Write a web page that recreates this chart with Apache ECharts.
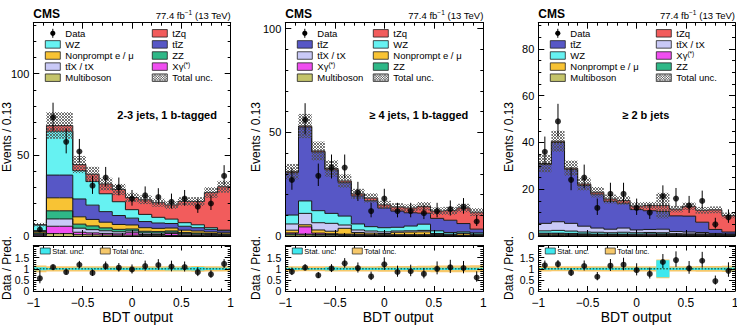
<!DOCTYPE html>
<html>
<head>
<meta charset="utf-8">
<title>BDT output</title>
<script src="https://cdn.jsdelivr.net/npm/echarts@6.0.0/dist/echarts.min.js"></script>
<style>
  html, body { margin: 0; padding: 0; background: #fff; }
  #chart { width: 737px; height: 327px; }
</style>
</head>
<body>
<div id="chart"></div>
<script>
// 15 bins of BDT output between -1 and 1
const nBins = 15;
const binEdges = Array.from({ length: nBins + 1 }, (_, i) => -1 + (2 * i) / nBins);

// --- 2-3 jets, 1 b-tagged
const data1 = [4, 73, 58, 52, 31, 36, 30, 23, 25, 24, 21, 23, 18, 20, 37];
const multiboson1 = [0.2, 1.5, 1.5, 0.8, 0.7, 0.6, 0.5, 0.5, 0.4, 0.4, 0.3, 0.3, 0.3, 0.2, 0.2];
const xgamma1 = [0.6, 4.5, 4.5, 1.5, 1.2, 1.0, 0.8, 1.5, 0.5, 0.5, 1.2, 0.4, 0.3, 0.3, 0.2];
const ttx1 = [0.5, 4.5, 4.5, 2.5, 2.0, 1.6, 1.3, 1.1, 1.0, 0.9, 0.8, 0.7, 0.6, 0.5, 0.4];
const zz1 = [0.6, 5.0, 5.0, 2.5, 2.3, 1.8, 1.5, 1.2, 1.0, 0.9, 0.8, 0.7, 0.6, 0.5, 0.4];
const nonprompt1 = [0.8, 8.0, 8.0, 4.5, 4.0, 3.5, 3.0, 2.5, 2.2, 2.0, 1.8, 1.5, 1.3, 1.0, 0.8];
const ttz1 = [0.6, 14.0, 14.0, 11.0, 8.8, 6.5, 5.5, 4.2, 3.8, 3.3, 2.8, 2.4, 2.0, 1.6, 1.2];
const wz1 = [3.5, 27.0, 27.0, 17.5, 14.5, 11.0, 8.5, 5.2, 4.4, 3.5, 2.7, 2.2, 1.8, 1.0, 0.4];
const tzq1 = [0.2, 3.5, 3.5, 3.7, 4.5, 6.0, 7.5, 7.5, 9.0, 9.0, 8.7, 13.1, 14.3, 21.6, 26.7];
const totUnc1 = [0.15, 0.12, 0.12, 0.12, 0.12, 0.12, 0.12, 0.12, 0.12, 0.12, 0.12, 0.12, 0.13, 0.12, 0.12];
const statUnc1 = [0.07, 0.04, 0.04, 0.05, 0.05, 0.05, 0.05, 0.05, 0.05, 0.05, 0.06, 0.06, 0.08, 0.05, 0.05];

// --- >= 4 jets, 1 b-tagged
const data2 = [27, 56, 29, 33, 33, 21, 12, 18, 12, 12, 11, 12, 13, 14, 7];
const multiboson2 = [0.5, 0.5, 0.4, 0.4, 0.3, 0.3, 0.2, 0.2, 0.2, 0.2, 0.2, 0.1, 0.1, 0.1, 0.1];
const zz2 = [0.5, 0.4, 0.4, 0.3, 0.3, 0.3, 0.2, 0.2, 0.2, 0.2, 0.2, 0.1, 0.1, 0.1, 0.1];
const xgamma2 = [0.5, 3.5, 0.6, 0.4, 0.3, 0.3, 0.2, 0.2, 0.2, 0.2, 0.2, 0.1, 0.1, 0.1, 0.1];
const nonprompt2 = [1.3, 1.0, 1.5, 1.2, 2.8, 0.8, 0.8, 0.6, 1.2, 1.3, 1.4, 0.4, 0.3, 0.8, 0.3];
const ttx2 = [3.0, 5.5, 3.5, 3.8, 1.6, 1.2, 1.0, 0.8, 0.6, 0.6, 0.7, 0.5, 0.3, 0.3, 0.3];
const wz2 = [4.3, 6.0, 5.8, 4.8, 4.3, 2.9, 2.1, 2.0, 1.8, 2.3, 3.0, 1.3, 0.8, 0.6, 0.6];
const ttz2 = [20.4, 35.6, 28.3, 21.0, 16.1, 13.5, 12.5, 9.5, 7.8, 6.4, 5.3, 6.0, 5.9, 4.0, 1.8];
const tzq2 = [0.5, 0.5, 0.5, 0.6, 0.8, 1.0, 1.3, 1.5, 2.0, 2.3, 3.3, 3.5, 4.6, 7.5, 8.2];
const totUnc2 = [0.12, 0.11, 0.11, 0.12, 0.12, 0.12, 0.12, 0.13, 0.13, 0.13, 0.14, 0.15, 0.15, 0.15, 0.16];
const statUnc2 = [0.05, 0.04, 0.04, 0.07, 0.05, 0.05, 0.05, 0.05, 0.05, 0.05, 0.05, 0.05, 0.05, 0.05, 0.05];

// --- >= 2 b jets
const data3 = [36, 49, 24, 25, 12, 18, 18, 12, 10, 17, 16, 13, 15, 5, 8];
const multiboson3 = [0.2, 0.2, 0.2, 0.2, 0.1, 0.1, 0.1, 0.1, 0.1, 0.1, 0.1, 0.1, 0.1, 0.1, 0.1];
const zz3 = [0.3, 0.3, 0.3, 0.2, 0.2, 0.2, 0.2, 0.2, 0.2, 0.2, 0.1, 0.1, 0.1, 0.1, 0.1];
const nonprompt3 = [0.4, 0.4, 0.3, 0.3, 0.3, 0.3, 0.3, 0.2, 0.2, 0.3, 0.2, 0.2, 0.2, 0.2, 0.1];
const xgamma3 = [0.3, 0.3, 0.3, 0.2, 0.2, 0.2, 0.2, 0.3, 0.4, 0.3, 0.2, 0.2, 0.2, 0.1, 0.1];
const wz3 = [1.0, 1.2, 1.0, 0.8, 0.8, 0.6, 0.8, 0.6, 0.6, 0.5, 0.4, 0.3, 0.3, 0.2, 0.2];
const ttx3 = [3.2, 3.7, 3.3, 2.5, 1.8, 1.5, 1.8, 1.2, 1.3, 1.5, 0.9, 0.8, 0.6, 0.4, 0.3];
const ttz3 = [25.2, 33.9, 23.1, 17.4, 14.5, 11.9, 10.6, 8.7, 8.0, 7.6, 6.7, 6.8, 4.4, 1.7, 0.8];
const tzq3 = [0.4, 0.5, 0.5, 0.6, 0.8, 1.0, 1.2, 1.5, 2.2, 2.5, 2.9, 4.2, 5.1, 8.4, 7.1];
const totUnc3 = [0.12, 0.11, 0.11, 0.12, 0.12, 0.12, 0.12, 0.12, 0.12, 0.42, 0.12, 0.12, 0.13, 0.13, 0.14];
const statUnc3 = [0.04, 0.04, 0.04, 0.04, 0.05, 0.05, 0.05, 0.05, 0.05, 0.38, 0.05, 0.05, 0.05, 0.05, 0.06];

const FONT = '"Liberation Sans", Arial, Helvetica, sans-serif';
const COLORS = {
  tZq: '#f25c5c', ttZ: '#5757c6', WZ: '#66f2f2', NP: '#f8c334',
  ZZ: '#2fb887', ttX: '#c9c9f7', Xg: '#f04ef0', MB: '#c4c46a'
};
const LABELS = {
  tZq: 'tZq', ttZ: 'tt\u0304Z', WZ: 'WZ', NP: 'Nonprompt e / \u03bc', ZZ: 'ZZ',
  ttX: 'tt\u0304X / tX', Xg: 'X\u03b3{s|(*)}', MB: 'Multiboson', Data: 'Data', unc: 'Total unc.'
};
const SUP = { s: { fontSize: 6.5, fontFamily: FONT, fill: '#000', verticalAlign: 'top', lineHeight: 7 } };

const panels = [
  {
    left: 33.3, width: 197.4, ymax: 131.3, major: 50, minor: 10,
    title: '2-3 jets, 1 b-tagged', yTitleX: 7, xTitleX: 137.5, rightCol: 119,
    order: ['MB', 'Xg', 'ttX', 'ZZ', 'NP', 'ttZ', 'WZ', 'tZq'],
    comps: { MB: multiboson1, Xg: xgamma1, ttX: ttx1, ZZ: zz1, NP: nonprompt1, ttZ: ttz1, WZ: wz1, tZq: tzq1 },
    legL: ['Data', 'WZ', 'NP', 'ttX', 'MB'], legR: ['tZq', 'ttZ', 'ZZ', 'Xg', 'unc'],
    data: data1, tot: totUnc1, stat: statUnc1
  },
  {
    left: 285.3, width: 198, ymax: 102.8, major: 50, minor: 10,
    title: '\u2265 4 jets, 1 b-tagged', yTitleX: 256, xTitleX: 398, rightCol: 88,
    order: ['MB', 'ZZ', 'Xg', 'NP', 'ttX', 'WZ', 'ttZ', 'tZq'],
    comps: { MB: multiboson2, ZZ: zz2, Xg: xgamma2, NP: nonprompt2, ttX: ttx2, WZ: wz2, ttZ: ttz2, tZq: tzq2 },
    legL: ['Data', 'ttZ', 'ttX', 'Xg', 'MB'], legR: ['tZq', 'WZ', 'NP', 'ZZ', 'unc'],
    data: data2, tot: totUnc2, stat: statUnc2
  },
  {
    left: 538.3, width: 196.7, ymax: 91.2, major: 20, minor: 5,
    title: '\u2265 2 b jets', yTitleX: 509, xTitleX: 636, rightCol: 118,
    order: ['MB', 'ZZ', 'NP', 'Xg', 'WZ', 'ttX', 'ttZ', 'tZq'],
    comps: { MB: multiboson3, ZZ: zz3, NP: nonprompt3, Xg: xgamma3, WZ: wz3, ttX: ttx3, ttZ: ttz3, tZq: tzq3 },
    legL: ['Data', 'ttZ', 'WZ', 'NP', 'MB'], legR: ['tZq', 'ttX', 'Xg', 'ZZ', 'unc'],
    data: data3, tot: totUnc3, stat: statUnc3
  }
];

const MAIN_TOP = 22.7, MAIN_H = 213.3, RAT_TOP = 245.5, RAT_H = 45.5, RAT_MAX = 2.05;

// cross-hatch segments inside a pixel rectangle (lines aligned to a global grid)
function hatchSegs(x0, y0, x1, y1, s) {
  const out = [];
  for (let c = Math.ceil((y0 - x1) / s) * s; c <= y1 - x0; c += s) {
    const a = Math.max(x0, y0 - c), b = Math.min(x1, y1 - c);
    if (b > a) out.push([a, a + c, b, b + c]);
  }
  for (let c = Math.ceil((x0 + y0) / s) * s; c <= x1 + y1; c += s) {
    const a = Math.max(x0, c - y1), b = Math.min(x1, c - y0);
    if (b > a) out.push([a, c - a, b, c - b]);
  }
  return out;
}
function hatchPath(x0, y0, x1, y1, s) {
  const f = v => v.toFixed(2);
  const d = hatchSegs(x0, y0, x1, y1, s).map(g => 'M' + f(g[0]) + ' ' + f(g[1]) + 'L' + f(g[2]) + ' ' + f(g[3])).join('');
  return d || 'M0 0';
}

function xAx(grid, pos, labels, tickLen) {
  return {
    type: 'value', gridIndex: grid, position: pos, min: -1, max: 1, interval: 0.5, z: 10,
    axisLine: { show: true, onZero: false, lineStyle: { color: '#000', width: 1 } },
    axisTick: { show: true, inside: true, length: tickLen, lineStyle: { color: '#000', width: 1 } },
    minorTick: { show: true, splitNumber: 5, length: tickLen / 2, lineStyle: { color: '#000', width: 1 } },
    axisLabel: {
      show: labels, margin: 5.5, fontSize: 12, fontFamily: FONT, color: '#000',
      formatter: v => String(v).replace('-', '\u2212')
    },
    splitLine: { show: false }
  };
}
function yAx(grid, pos, max, interval, tickLen, labels, line, labelMax, fontSize) {
  return {
    type: 'value', gridIndex: grid, position: pos, min: 0, max: max, interval: interval, z: 10,
    axisLine: { show: line, onZero: false, lineStyle: { color: '#000', width: 1 } },
    axisTick: { show: true, inside: true, length: tickLen, lineStyle: { color: '#000', width: 1 } },
    axisLabel: {
      show: labels, margin: 4, fontSize: fontSize || 11, fontFamily: FONT, color: '#000',
      formatter: v => (Math.abs(v / interval - Math.round(v / interval)) < 1e-6 && v <= labelMax + 1e-9)
        ? String(+v.toFixed(2)) : ''
    },
    splitLine: { show: false }
  };
}
function txt(x, y, text, size, opts) {
  opts = opts || {};
  const align = opts.align || 'left';
  return {
    type: 'text', x: x, y: y, rotation: opts.rot || 0, silent: true, z: 100,
    style: {
      text: text, fontSize: size, fontFamily: FONT, fontWeight: opts.bold ? 'bold' : 'normal', fill: '#000',
      align: align, verticalAlign: 'middle', textAlign: align, textVerticalAlign: 'middle',
      rich: opts.rich, lineHeight: opts.lh
    }
  };
}

const grid = [], xAxis = [], yAxis = [], series = [], graphic = [];

panels.forEach((p) => {
  const gm = grid.length;
  grid.push({ left: p.left, top: MAIN_TOP, width: p.width, height: MAIN_H, outerBoundsMode: 'none', containLabel: false });
  const gr = grid.length;
  grid.push({ left: p.left, top: RAT_TOP, width: p.width, height: RAT_H, outerBoundsMode: 'none', containLabel: false });

  const xm = xAxis.length;
  xAxis.push(xAx(gm, 'bottom', false, 6), xAx(gm, 'top', false, 6));
  const xr = xAxis.length;
  xAxis.push(xAx(gr, 'bottom', true, 5), xAx(gr, 'top', false, 5));

  const ym = yAxis.length;
  yAxis.push(
    yAx(gm, 'left', p.ymax, p.major, 6, true, true, p.ymax),
    yAx(gm, 'left', p.ymax, p.minor, 3, false, false, 0),
    yAx(gm, 'right', p.ymax, p.major, 6, false, true, 0),
    yAx(gm, 'right', p.ymax, p.minor, 3, false, false, 0)
  );
  const yr = yAxis.length;
  yAxis.push(
    yAx(gr, 'left', RAT_MAX, 0.5, 6, true, true, 1.5, 10.5),
    yAx(gr, 'left', RAT_MAX, 0.1, 3, false, false, 0),
    yAx(gr, 'right', RAT_MAX, 0.5, 6, false, true, 0),
    yAx(gr, 'right', RAT_MAX, 0.1, 3, false, false, 0)
  );

  // cumulative stack
  let base = new Array(nBins).fill(0);
  const layers = p.order.map(key => {
    const lo = base.slice();
    const hi = base.map((b, i) => b + p.comps[key][i]);
    base = hi;
    return { key, lo, hi };
  });
  const pred = base;
  const centers = pred.map((_, i) => (binEdges[i] + binEdges[i + 1]) / 2);

  const onMain = { xAxisIndex: xm, yAxisIndex: ym, coordinateSystem: 'cartesian2d', silent: true };
  const onRatio = { xAxisIndex: xr, yAxisIndex: yr, coordinateSystem: 'cartesian2d', silent: true };

  // filled stack components
  layers.forEach(L => {
    series.push(Object.assign({
      type: 'custom', name: LABELS[L.key].replace(/\{s\|(.*)\}/, '$1'), z: 2,
      data: [[-1, 0]], encode: { x: 0, y: 1 },
      renderItem: (params, api) => {
        const pts = [];
        for (let i = 0; i < nBins; i++) {
          pts.push(api.coord([binEdges[i], L.hi[i]]), api.coord([binEdges[i + 1], L.hi[i]]));
        }
        for (let i = nBins - 1; i >= 0; i--) {
          pts.push(api.coord([binEdges[i + 1], L.lo[i]]), api.coord([binEdges[i], L.lo[i]]));
        }
        return { type: 'polygon', shape: { points: pts }, style: { fill: COLORS[L.key] } };
      }
    }, onMain));
  });

  // histogram outlines
  series.push(Object.assign({
    type: 'custom', z: 3, data: [[-1, 0]], encode: { x: 0, y: 1 },
    renderItem: (params, api) => ({
      type: 'group',
      children: layers.map(L => {
        const pts = [];
        for (let i = 0; i < nBins; i++) {
          pts.push(api.coord([binEdges[i], L.hi[i]]), api.coord([binEdges[i + 1], L.hi[i]]));
        }
        return { type: 'polyline', shape: { points: pts }, style: { fill: 'none', stroke: '#1a1a1a', lineWidth: 1 } };
      })
    })
  }, onMain));

  // total uncertainty hatch
  series.push(Object.assign({
    type: 'custom', name: 'Total unc.', z: 4,
    data: pred.map((v, i) => [binEdges[i], binEdges[i + 1], v * (1 - p.tot[i]), v * (1 + p.tot[i])]),
    encode: { x: [0, 1], y: [2, 3] },
    renderItem: (params, api) => {
      const a = api.coord([api.value(0), api.value(3)]);
      const b = api.coord([api.value(1), api.value(2)]);
      return {
        type: 'path', shape: { pathData: hatchPath(a[0], a[1], b[0], b[1], 3) },
        style: { fill: 'none', stroke: '#505050', lineWidth: 0.8 }
      };
    }
  }, onMain));

  // data with Poisson error bars
  const errDn = p.data.map(n => Math.sqrt(n + 0.25) - 0.5);
  const errUp = p.data.map(n => Math.sqrt(n + 0.25) + 0.5);
  const errBar = (params, api) => {
    const a = api.coord([api.value(0), api.value(1)]);
    const b = api.coord([api.value(0), api.value(2)]);
    return { type: 'line', shape: { x1: a[0], y1: a[1], x2: b[0], y2: b[1] }, style: { stroke: '#000', lineWidth: 1 } };
  };
  series.push(Object.assign({
    type: 'custom', z: 5,
    data: p.data.map((n, i) => [centers[i], n - errDn[i], n + errUp[i]]),
    encode: { x: 0, y: [1, 2] }, renderItem: errBar
  }, onMain));
  series.push(Object.assign({
    type: 'scatter', name: 'Data', z: 6, symbol: 'circle', symbolSize: 6,
    itemStyle: { color: '#000' },
    data: p.data.map((n, i) => [centers[i], n])
  }, onMain));

  // ratio panel: uncertainty bands
  const band = (rel, color, z) => Object.assign({
    type: 'custom', z: z, data: [[-1, 1]], encode: { x: 0, y: 1 },
    renderItem: (params, api) => {
      const pts = [];
      for (let i = 0; i < nBins; i++) {
        pts.push(api.coord([binEdges[i], 1 + rel[i]]), api.coord([binEdges[i + 1], 1 + rel[i]]));
      }
      for (let i = nBins - 1; i >= 0; i--) {
        pts.push(api.coord([binEdges[i + 1], 1 - rel[i]]), api.coord([binEdges[i], 1 - rel[i]]));
      }
      return { type: 'polygon', shape: { points: pts }, style: { fill: color } };
    }
  }, onRatio);
  series.push(band(p.tot, '#f6c86a', 2));
  series.push(band(p.stat, '#3ee8ee', 3));
  series.push(Object.assign({
    type: 'line', z: 4, showSymbol: false, symbol: 'none',
    data: [[-1, 1], [1, 1]],
    lineStyle: { type: 'dotted', color: '#1e6e52', width: 1.6 }
  }, onRatio));
  series.push(Object.assign({
    type: 'custom', z: 5,
    data: p.data.map((n, i) => [centers[i], (n - errDn[i]) / pred[i], (n + errUp[i]) / pred[i]]),
    encode: { x: 0, y: [1, 2] }, renderItem: errBar
  }, onRatio));
  series.push(Object.assign({
    type: 'scatter', z: 6, symbol: 'circle', symbolSize: 6,
    itemStyle: { color: '#000' },
    data: p.data.map((n, i) => [centers[i], n / pred[i]])
  }, onRatio));

  // texts
  const right = p.left + p.width;
  graphic.push(txt(p.left, 14, 'CMS', 12, { bold: true }));
  graphic.push(txt(right, 15, '77.4 fb{s|\u22121} (13 TeV)', 9.5, { align: 'right', rich: SUP, lh: 12 }));
  graphic.push(txt(p.left + 84, 115, p.title, 11, { bold: true }));
  graphic.push(txt(p.yTitleX, 137, 'Events / 0.13', 12, { align: 'center', rot: Math.PI / 2 }));
  graphic.push(txt(p.yTitleX, 268, 'Data / Pred.', 12, { align: 'center', rot: Math.PI / 2 }));
  graphic.push(txt(p.xTitleX, 317, 'BDT output', 14, { align: 'center' }));

  // legend
  const legendEntry = (key, bx, y) => {
    const els = [];
    if (key === 'Data') {
      els.push({ type: 'line', shape: { x1: bx + 7.5, y1: y - 4.5, x2: bx + 7.5, y2: y + 4.5 }, style: { stroke: '#000', lineWidth: 1 } });
      els.push({ type: 'circle', shape: { cx: bx + 7.5, cy: y, r: 2.6 }, style: { fill: '#000' } });
    } else if (key === 'unc') {
      els.push({ type: 'rect', shape: { x: bx, y: y - 3.75, width: 15, height: 7.5 }, style: { fill: '#fff', stroke: '#222', lineWidth: 0.8 } });
      hatchSegs(bx, y - 3.75, bx + 15, y + 3.75, 2.5).forEach(g => {
        els.push({ type: 'line', shape: { x1: g[0], y1: g[1], x2: g[2], y2: g[3] }, style: { stroke: '#505050', lineWidth: 0.7 } });
      });
    } else {
      els.push({ type: 'rect', shape: { x: bx, y: y - 3.75, width: 15, height: 7.5 }, style: { fill: COLORS[key], stroke: '#222', lineWidth: 0.8 } });
    }
    els.forEach(e => { e.silent = true; e.z = 100; graphic.push(e); });
    graphic.push(txt(bx + 20, y, LABELS[key], 9.5, { rich: SUP, lh: 12 }));
  };
  p.legL.forEach((k, r) => legendEntry(k, p.left + 12, 33.3 + 11.1 * r));
  p.legR.forEach((k, r) => legendEntry(k, p.left + p.rightCol, 33.3 + 11.1 * r));

  // ratio legend
  graphic.push({ type: 'rect', silent: true, z: 100, shape: { x: p.left + 7, y: 248, width: 10, height: 6 }, style: { fill: '#3ee8ee', stroke: '#222', lineWidth: 0.7 } });
  graphic.push(txt(p.left + 19, 251, 'Stat. unc.', 7.5));
  graphic.push({ type: 'rect', silent: true, z: 100, shape: { x: p.left + 67, y: 248, width: 10, height: 6 }, style: { fill: '#f6c86a', stroke: '#222', lineWidth: 0.7 } });
  graphic.push(txt(p.left + 79, 251, 'Total unc.', 7.5));
});

const chart = echarts.init(document.getElementById('chart'), null, { renderer: 'svg' });
chart.setOption({
  animation: false,
  backgroundColor: '#fff',
  grid: grid,
  xAxis: xAxis,
  yAxis: yAxis,
  series: series,
  graphic: { elements: graphic }
});
</script>
</body>
</html>
